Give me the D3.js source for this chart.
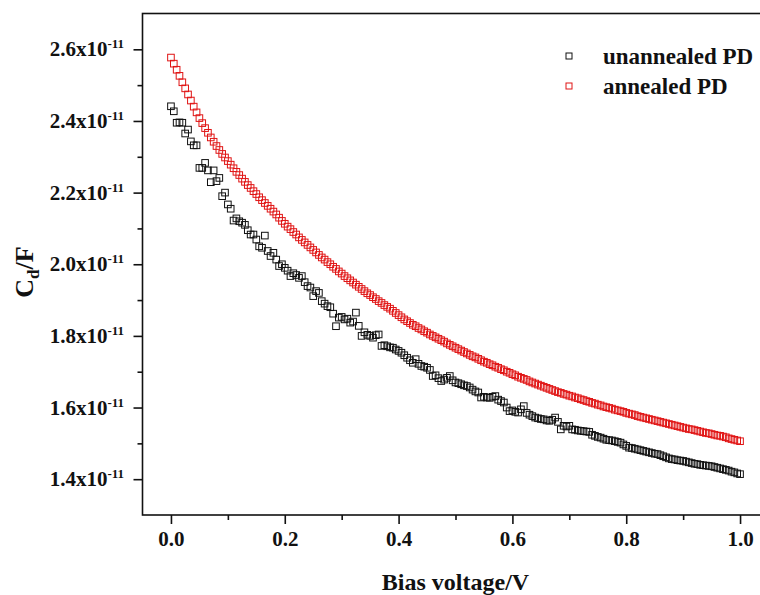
<!DOCTYPE html>
<html>
<head>
<meta charset="utf-8">
<script src="https://cdnjs.cloudflare.com/ajax/libs/d3/7.8.5/d3.min.js"></script>
<style>
  body { margin: 0; background: #fff; }
  text { font-family: "Liberation Serif", "Times New Roman", serif; font-weight: bold; fill: #111; }
</style>
</head>
<body>
<div id="chart"></div>
<script>
// bias voltage sweep (V)
var biasV = [0.000,0.005,0.010,0.015,0.020,0.025,0.030,0.035,0.040,0.045,
             0.050,0.055,0.060,0.065,0.070,0.075,0.080,0.085,0.090,0.095,
             0.100,0.105,0.110,0.115,0.120,0.125,0.130,0.135,0.140,0.145,
             0.150,0.155,0.160,0.165,0.170,0.175,0.180,0.185,0.190,0.195,
             0.200,0.205,0.210,0.215,0.220,0.225,0.230,0.235,0.240,0.245,
             0.250,0.255,0.260,0.265,0.270,0.275,0.280,0.285,0.290,0.295,
             0.300,0.305,0.310,0.315,0.320,0.325,0.330,0.335,0.340,0.345,
             0.350,0.355,0.360,0.365,0.370,0.375,0.380,0.385,0.390,0.395,
             0.400,0.405,0.410,0.415,0.420,0.425,0.430,0.435,0.440,0.445,
             0.450,0.455,0.460,0.465,0.470,0.475,0.480,0.485,0.490,0.495,
             0.500,0.505,0.510,0.515,0.520,0.525,0.530,0.535,0.540,0.545,
             0.550,0.555,0.560,0.565,0.570,0.575,0.580,0.585,0.590,0.595,
             0.600,0.605,0.610,0.615,0.620,0.625,0.630,0.635,0.640,0.645,
             0.650,0.655,0.660,0.665,0.670,0.675,0.680,0.685,0.690,0.695,
             0.700,0.705,0.710,0.715,0.720,0.725,0.730,0.735,0.740,0.745,
             0.750,0.755,0.760,0.765,0.770,0.775,0.780,0.785,0.790,0.795,
             0.800,0.805,0.810,0.815,0.820,0.825,0.830,0.835,0.840,0.845,
             0.850,0.855,0.860,0.865,0.870,0.875,0.880,0.885,0.890,0.895,
             0.900,0.905,0.910,0.915,0.920,0.925,0.930,0.935,0.940,0.945,
             0.950,0.955,0.960,0.965,0.970,0.975,0.980,0.985,0.990,0.995,
             1.000];

// capacitance, in units of 1e-11 F
var unannealed = [2.441,2.427,2.395,2.396,2.395,2.365,2.376,2.343,2.332,2.332,
                  2.269,2.269,2.283,2.262,2.229,2.262,2.232,2.241,2.190,2.200,
                  2.167,2.155,2.122,2.128,2.120,2.116,2.110,2.095,2.083,2.083,
                  2.069,2.050,2.046,2.080,2.037,2.023,2.032,2.013,1.995,2.000,
                  1.990,1.982,1.967,1.975,1.970,1.962,1.967,1.950,1.939,1.935,
                  1.911,1.925,1.920,1.897,1.890,1.883,1.880,1.862,1.827,1.851,
                  1.853,1.846,1.848,1.837,1.840,1.865,1.828,1.800,1.810,1.803,
                  1.800,1.795,1.802,1.804,1.772,1.774,1.771,1.768,1.767,1.762,
                  1.758,1.753,1.746,1.739,1.732,1.725,1.735,1.722,1.716,1.714,
                  1.711,1.705,1.688,1.690,1.682,1.674,1.678,1.683,1.688,1.676,
                  1.670,1.668,1.665,1.662,1.660,1.656,1.650,1.645,1.642,1.628,
                  1.630,1.628,1.627,1.630,1.632,1.622,1.618,1.614,1.600,1.590,
                  1.592,1.588,1.586,1.595,1.604,1.585,1.580,1.576,1.572,1.570,
                  1.568,1.567,1.564,1.563,1.566,1.572,1.560,1.539,1.549,1.547,
                  1.549,1.539,1.538,1.536,1.535,1.534,1.533,1.532,1.524,1.521,
                  1.518,1.516,1.513,1.510,1.509,1.508,1.506,1.504,1.502,1.497,
                  1.493,1.488,1.487,1.485,1.483,1.481,1.479,1.477,1.475,1.473,
                  1.471,1.470,1.467,1.464,1.461,1.458,1.456,1.455,1.453,1.452,
                  1.451,1.449,1.447,1.445,1.443,1.442,1.440,1.439,1.438,1.437,
                  1.436,1.434,1.432,1.430,1.428,1.426,1.424,1.421,1.419,1.416,
                  1.414];

var annealed = [2.577,2.560,2.543,2.526,2.508,2.491,2.474,2.457,2.440,2.424,
                2.408,2.394,2.380,2.367,2.354,2.342,2.330,2.319,2.308,2.298,
                2.288,2.278,2.268,2.258,2.249,2.239,2.230,2.221,2.213,2.204,
                2.196,2.187,2.179,2.171,2.163,2.155,2.147,2.139,2.130,2.121,
                2.113,2.105,2.098,2.090,2.083,2.075,2.068,2.061,2.054,2.047,
                2.040,2.033,2.026,2.019,2.013,2.006,2.000,1.993,1.987,1.980,
                1.974,1.967,1.961,1.955,1.949,1.943,1.937,1.931,1.925,1.919,
                1.914,1.908,1.903,1.897,1.892,1.886,1.881,1.876,1.870,1.864,
                1.858,1.852,1.846,1.841,1.836,1.831,1.827,1.822,1.818,1.813,
                1.809,1.804,1.800,1.796,1.792,1.788,1.784,1.779,1.775,1.771,
                1.767,1.763,1.759,1.755,1.751,1.747,1.743,1.740,1.736,1.732,
                1.728,1.725,1.721,1.718,1.714,1.711,1.707,1.704,1.700,1.697,
                1.693,1.690,1.686,1.683,1.680,1.677,1.673,1.670,1.667,1.664,
                1.661,1.658,1.655,1.652,1.649,1.646,1.643,1.641,1.638,1.636,
                1.633,1.631,1.628,1.626,1.623,1.621,1.618,1.616,1.613,1.611,
                1.608,1.606,1.603,1.601,1.599,1.597,1.594,1.592,1.590,1.588,
                1.585,1.583,1.581,1.579,1.576,1.574,1.572,1.570,1.568,1.566,
                1.564,1.562,1.560,1.558,1.556,1.554,1.552,1.550,1.548,1.546,
                1.544,1.542,1.540,1.539,1.537,1.535,1.533,1.531,1.529,1.528,
                1.526,1.524,1.522,1.521,1.519,1.517,1.514,1.512,1.510,1.508,
                1.506];

var seriesNames = ["unannealed PD", "annealed PD"];
var seriesColors = ["#111111", "#e01414"];
var xTicks = [0, 0.2, 0.4, 0.6, 0.8, 1.0];
var xMinorTicks = [0.1, 0.3, 0.5, 0.7, 0.9];
var yTicks = [1.4, 1.6, 1.8, 2.0, 2.2, 2.4, 2.6];
var yMinorTicks = [1.5, 1.7, 1.9, 2.1, 2.3, 2.5];

var width = 760, height = 595;
var margin = {top: 13.5, left: 142.5, bottom: 80};
var plotW = 626, plotH = height - margin.top - margin.bottom;

var svg = d3.select("#chart").append("svg")
    .attr("width", width)
    .attr("height", height);

var x = d3.scaleLinear().domain([-0.05, 1.05]).range([margin.left, margin.left + plotW]);
var y = d3.scaleLinear().domain([1.3, 2.7]).range([margin.top + plotH, margin.top]);

// frame (right edge falls outside the picture)
svg.append("rect")
    .attr("x", margin.left)
    .attr("y", margin.top)
    .attr("width", plotW)
    .attr("height", plotH)
    .attr("fill", "none")
    .attr("stroke", "#111")
    .attr("stroke-width", 1.6);

// x axis
var xAxis = svg.append("g")
    .attr("transform", "translate(0," + (margin.top + plotH) + ")")
    .call(d3.axisBottom(x).tickValues(xTicks).tickSize(9).tickFormat(d3.format(".1f")));
xAxis.select(".domain").remove();
xAxis.selectAll("line").attr("stroke", "#111").attr("stroke-width", 1.6);
xAxis.selectAll("text").attr("font-size", 21).attr("dy", "1.05em").attr("y", 9);

var xMinor = svg.append("g")
    .attr("transform", "translate(0," + (margin.top + plotH) + ")")
    .call(d3.axisBottom(x).tickValues(xMinorTicks).tickSize(5).tickFormat(""));
xMinor.select(".domain").remove();
xMinor.selectAll("line").attr("stroke", "#111").attr("stroke-width", 1.6);

// y axis
var yAxis = svg.append("g")
    .attr("transform", "translate(" + margin.left + ",0)")
    .call(d3.axisLeft(y).tickValues(yTicks).tickSize(9).tickFormat(""));
yAxis.select(".domain").remove();
yAxis.selectAll("line").attr("stroke", "#111").attr("stroke-width", 1.6);

var yMinor = svg.append("g")
    .attr("transform", "translate(" + margin.left + ",0)")
    .call(d3.axisLeft(y).tickValues(yMinorTicks).tickSize(5).tickFormat(""));
yMinor.select(".domain").remove();
yMinor.selectAll("line").attr("stroke", "#111").attr("stroke-width", 1.6);

// y tick labels with superscript exponent
var yLab = svg.append("g").selectAll("text")
    .data(yTicks)
    .enter().append("text")
    .attr("x", 124)
    .attr("y", function(d) { return y(d) + 7; })
    .attr("text-anchor", "end")
    .attr("font-size", 21);
yLab.append("tspan").text(function(d) { return d3.format(".1f")(d) + "x10"; });
yLab.append("tspan").attr("font-size", 13).attr("dy", -8).text("-11");

// axis titles
svg.append("text")
    .attr("x", x(0.5))
    .attr("y", 590)
    .attr("text-anchor", "middle")
    .attr("font-size", 24)
    .text("Bias voltage/V");

var yTitle = svg.append("text")
    .attr("transform", "translate(33,272) rotate(-90)")
    .attr("text-anchor", "middle")
    .attr("font-size", 26);
yTitle.append("tspan").text("C");
yTitle.append("tspan").attr("font-size", 17).attr("dy", 6).text("d");
yTitle.append("tspan").attr("dy", -6).text("/F");

// data points
var allSeries = [unannealed, annealed];
allSeries.forEach(function(vals, si) {
    svg.append("g")
        .selectAll("rect")
        .data(vals)
        .enter().append("rect")
        .attr("x", function(d, i) { return x(biasV[i]) - 3.3; })
        .attr("y", function(d) { return y(d) - 3.3; })
        .attr("width", 6.6)
        .attr("height", 6.6)
        .attr("fill", "none")
        .attr("stroke", seriesColors[si])
        .attr("stroke-width", 1);
});

// legend
var legend = svg.append("g").attr("transform", "translate(569,56)");
seriesNames.forEach(function(name, i) {
    legend.append("rect")
        .attr("x", -3)
        .attr("y", i * 30 - 3)
        .attr("width", 6)
        .attr("height", 6)
        .attr("fill", "none")
        .attr("stroke", seriesColors[i])
        .attr("stroke-width", 1);
    legend.append("text")
        .attr("x", 34)
        .attr("y", i * 30 + 8)
        .attr("font-size", 23)
        .text(name);
});
</script>
</body>
</html>
